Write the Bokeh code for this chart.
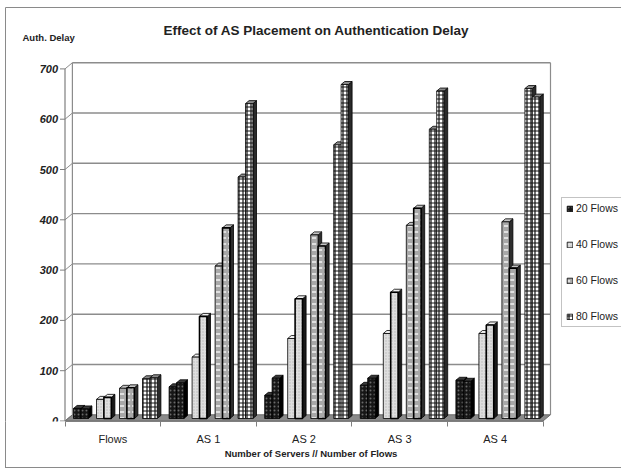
from bokeh.plotting import figure
from bokeh.models import (Range1d, LinearAxis, FixedTicker, Label, Legend, LegendItem,
                          ColumnDataSource, BoxAnnotation)
from bokeh.core.properties import value
from bokeh.embed import file_html
from bokeh.resources import INLINE

# ---------------- data ----------------
categories = ["Flows", "AS 1", "AS 2", "AS 3", "AS 4"]
series_names = ["20 Flows", "40 Flows", "60 Flows", "80 Flows"]
# every series shows two bars (left / right) per category
delay_20_left = [20, 63, 46, 66, 76]
delay_20_right = [19, 71, 80, 80, 74]
delay_40_left = [38, 122, 159, 169, 169]
delay_40_right = [42, 203, 238, 251, 186]
delay_60_left = [60, 303, 365, 384, 391]
delay_60_right = [61, 379, 343, 418, 299]
delay_80_left = [79, 480, 544, 575, 656]
delay_80_right = [81, 626, 664, 651, 639]
y_ticks = [0, 100, 200, 300, 400, 500, 600, 700]
y_tick_labels = [str(v) for v in y_ticks]

left_values = [delay_20_left, delay_40_left, delay_60_left, delay_80_left]
right_values = [delay_20_right, delay_40_right, delay_60_right, delay_80_right]

# ---------------- geometry (pixel based) ----------------
W, H = 621, 470
B_BOTTOM = 49
FRAME_H = H - B_BOTTOM          # frame covers the whole width and everything above the x axis
X0_PX = 64.5                    # pixel of category boundary 0
PX_PER_CAT = 95.6
PX_PER_UNIT = 0.503


def ux(px):
    return px / PX_PER_CAT


def uy(px):
    return px / PX_PER_UNIT


x_start = -ux(X0_PX)
x_end = ux(W - X0_PX)
y_start = -uy(0.5)
y_end = y_start + uy(FRAME_H)

n_cat = len(categories)
WALL_R = ux(550 - X0_PX)        # right edge of the back wall
BACK_X = ux(7.4)
BACK_Y = uy(6.2)
BAR_BASE = uy(2.5)
BAR_W = ux(7.4)
SIDE_X = ux(3.6)
SIDE_Y = uy(3.0)

FONT = "Liberation Sans"
AX = "#7f7f7f"

styles = [
    dict(fill_color="#161616", hatch_pattern="dot", hatch_color="#6a6a6a", hatch_scale=4, hatch_weight=1,
         side="#000000", top="#3a3a3a"),
    dict(fill_color="#dedede", hatch_pattern="dot", hatch_color="#b8b8b8", hatch_scale=3, hatch_weight=1,
         side="#1a1a1a", top="#f0f0f0"),
    dict(fill_color="#a8a8a8", hatch_pattern="horizontal_dash", hatch_color="#ffffff", hatch_scale=6,
         hatch_weight=1.3, side="#2e2e2e", top="#c4c4c4"),
    dict(fill_color="#ffffff", hatch_pattern="cross", hatch_color="#111111", hatch_scale=4, hatch_weight=1.2,
         side="#2a2a2a", top="#8a8a8a"),
]

p = figure(width=W, height=H, x_range=Range1d(x_start, x_end), y_range=Range1d(y_start, y_end),
           output_backend="svg", toolbar_location=None,
           x_axis_location=None, y_axis_location=None,
           min_border_left=0, min_border_right=0, min_border_top=0, min_border_bottom=B_BOTTOM)
p.outline_line_color = None
p.xgrid.visible = False
p.ygrid.visible = False
p.background_fill_color = "white"
p.border_fill_alpha = 0
# outer frame below the plot area (the part inside it is a BoxAnnotation)
p.styles = {
    "background-image": "linear-gradient(#8a8a8a, #8a8a8a), linear-gradient(#8a8a8a, #8a8a8a)",
    "background-size": "1px 48px, 620px 1px",
    "background-position": "5px 420px, 5px 467px",
    "background-repeat": "no-repeat",
}

# ---------------- walls / floor ----------------
grid_vals = y_ticks[1:]
p.segment(x0=[BACK_X] * len(grid_vals), x1=[WALL_R] * len(grid_vals),
          y0=[v + BACK_Y for v in grid_vals], y1=[v + BACK_Y for v in grid_vals],
          line_color="#8c8c8c", line_width=1.4)
p.segment(x0=[0] * len(y_ticks), x1=[BACK_X] * len(y_ticks),
          y0=y_ticks, y1=[v + BACK_Y for v in y_ticks], line_color="#8c8c8c", line_width=1)
p.segment(x0=[BACK_X, WALL_R], x1=[BACK_X, WALL_R],
          y0=[BACK_Y, BACK_Y], y1=[y_ticks[-1] + BACK_Y] * 2, line_color="#8c8c8c", line_width=1.2)
p.patch(x=[0, n_cat, n_cat + BACK_X, BACK_X], y=[0, 0, BACK_Y, BACK_Y],
        fill_color="#8a8a8a", line_color="#6a6a6a", line_width=1)

# y axis (front edge of the left wall) with ticks and labels
p.segment(x0=[0], x1=[0], y0=[y_ticks[0]], y1=[y_ticks[-1]], line_color=AX, line_width=1.2)
p.segment(x0=[-ux(5)] * len(y_ticks), x1=[0] * len(y_ticks), y0=y_ticks, y1=y_ticks,
          line_color=AX, line_width=1)
p.text(x=[-ux(7)] * len(y_ticks), y=y_ticks, text=y_tick_labels, text_align="right",
       text_baseline="middle", text_font=value(FONT), text_font_size="11px",
       text_font_style="bold italic", text_color="#222222")

# ---------------- bars ----------------
legend_renderers = []
for m, data in enumerate([left_values, right_values]):
    for j, vals in enumerate(data):
        st = styles[j]
        xl = [k + ux(8.5 + 23 * j) + m * BAR_W for k in range(n_cat)]
        xr = [a + BAR_W for a in xl]
        tops = [v + BAR_BASE for v in vals]
        side_xs = [[r, r + SIDE_X, r + SIDE_X, r] for r in xr]
        side_ys = [[BAR_BASE, BAR_BASE + SIDE_Y, t + SIDE_Y, t] for t in tops]
        top_xs = [[a, r, r + SIDE_X, a + SIDE_X] for a, r in zip(xl, xr)]
        top_ys = [[t, t, t + SIDE_Y, t + SIDE_Y] for t in tops]
        p.patches(xs=side_xs, ys=side_ys, fill_color=st["side"], line_color="#000000", line_width=0.8)
        p.patches(xs=top_xs, ys=top_ys, fill_color=st["top"], line_color="#000000", line_width=0.8)
        src = ColumnDataSource(dict(left=xl, right=xr, bottom=[BAR_BASE] * n_cat, top=tops))
        lw = 1.6 if (m == 1 and j in (1, 2)) else 0.8
        r = p.quad(left="left", right="right", bottom="bottom", top="top", source=src,
                   fill_color=st["fill_color"], hatch_pattern=st["hatch_pattern"],
                   hatch_color=st["hatch_color"], hatch_scale=st["hatch_scale"],
                   hatch_weight=st["hatch_weight"], line_color="#000000", line_width=lw)
        if m == 0:
            legend_renderers.append(r)

# ---------------- x axis ----------------
xaxis = LinearAxis(
    ticker=FixedTicker(ticks=[i + 0.5 for i in range(n_cat)], minor_ticks=list(range(n_cat + 1))),
    major_label_overrides={i + 0.5: c for i, c in enumerate(categories)},
    axis_label="Number of Servers // Number of Flows",
    bounds=(0, n_cat))
xaxis.axis_line_color = AX
xaxis.axis_line_width = 1.2
xaxis.major_tick_out = 0
xaxis.major_tick_in = 0
xaxis.minor_tick_out = 5
xaxis.minor_tick_in = 0
xaxis.minor_tick_line_color = AX
xaxis.major_label_standoff = 6
xaxis.major_label_text_font = FONT
xaxis.major_label_text_font_size = "11px"
xaxis.major_label_text_color = "#222222"
xaxis.axis_label_text_font = FONT
xaxis.axis_label_text_font_size = "9.5px"
xaxis.axis_label_text_font_style = "bold"
xaxis.axis_label_text_color = "#222222"
xaxis.axis_label_standoff = 0
p.add_layout(xaxis, "below")

# ---------------- texts (screen units are relative to the frame's bottom-left) ----------------
p.add_layout(Label(x=316, y=FRAME_H - 30, x_units="screen", y_units="screen",
                   text="Effect of AS Placement on Authentication Delay", text_align="center",
                   text_baseline="middle", text_font=FONT, text_font_size="13.5px",
                   text_font_style="bold", text_color="#222222"))
p.add_layout(Label(x=22, y=FRAME_H - 37, x_units="screen", y_units="screen",
                   text="Auth. Delay", text_align="left", text_baseline="middle",
                   text_font=FONT, text_font_size="9.5px", text_font_style="bold",
                   text_color="#222222"))

# ---------------- legend ----------------
legend = Legend(items=[LegendItem(label=n, renderers=[r]) for n, r in zip(series_names, legend_renderers)],
                location=(561, FRAME_H - 327), orientation="vertical",
                glyph_width=7, glyph_height=7, label_height=12, spacing=24, padding=4,
                margin=0, label_standoff=3, label_text_font=FONT, label_text_font_size="10.5px",
                label_text_color="#222222", border_line_color="#888888", border_line_width=1,
                background_fill_color="white", background_fill_alpha=1)
p.add_layout(legend, "center")

# ---------------- outer frame (part inside the plot area) ----------------
p.add_layout(BoxAnnotation(left=5, right=W + 20, top=FRAME_H - 7, bottom=-60,
                           left_units="screen", right_units="screen",
                           top_units="screen", bottom_units="screen", fill_alpha=0,
                           line_color="#8a8a8a", line_width=1, line_alpha=1, level="underlay"))

open("out.html", "w").write(file_html(p, INLINE))
